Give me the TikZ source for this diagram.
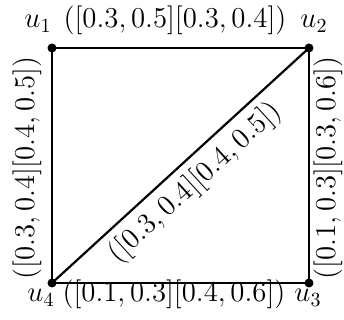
\documentclass[tikz,border=0pt]{standalone}
\begin{document}
\begin{tikzpicture}[x=0.5pt,y=-0.5pt,
  vdot/.style={circle,fill=black,inner sep=0pt,minimum size=4.5pt},
  edge/.style={line width=1.1pt},
  lab/.style={inner sep=0pt,font=\fontsize{13.9}{16}\selectfont}]
\useasboundingbox (0,0) rectangle (344,320);
\node[vdot] (u1) at (52,48) {};
\node[vdot] (u2) at (309,48) {};
\node[vdot] (u3) at (309,283) {};
\node[vdot] (u4) at (52,283) {};
\draw[edge] (u1.center) -- (u2.center) -- (u3.center) -- (u4.center) -- cycle;
\draw[edge] (u4.center) -- (u2.center);
% vertex names
\node[lab,anchor=base] (n1) at (38,28) {$u_1$};
\node[lab,anchor=base] (n2) at (314,28) {$u_2$};
\node[lab,anchor=base] (n3) at (308,302) {$u_3$};
\node[lab,anchor=base] (n4) at (41,302) {$u_4$};
% edge labels
\node[lab,anchor=base] (l12) at (175,28) {$([0.3,0.5][0.3,0.4])$};
\node[lab,anchor=base] (l43) at (174,302) {$([0.1,0.3][0.4,0.6])$};
\node[lab,rotate=90] (l14) at (27,168) {$([0.3,0.4][0.4,0.5])$};
\node[lab,rotate=90] (l23) at (328,168) {$([0.1,0.3][0.3,0.6])$};
\node[lab,rotate=42.4] (l24) at (195,183) {$([0.3,0.4][0.4,0.5])$};
\end{tikzpicture}
\end{document}
